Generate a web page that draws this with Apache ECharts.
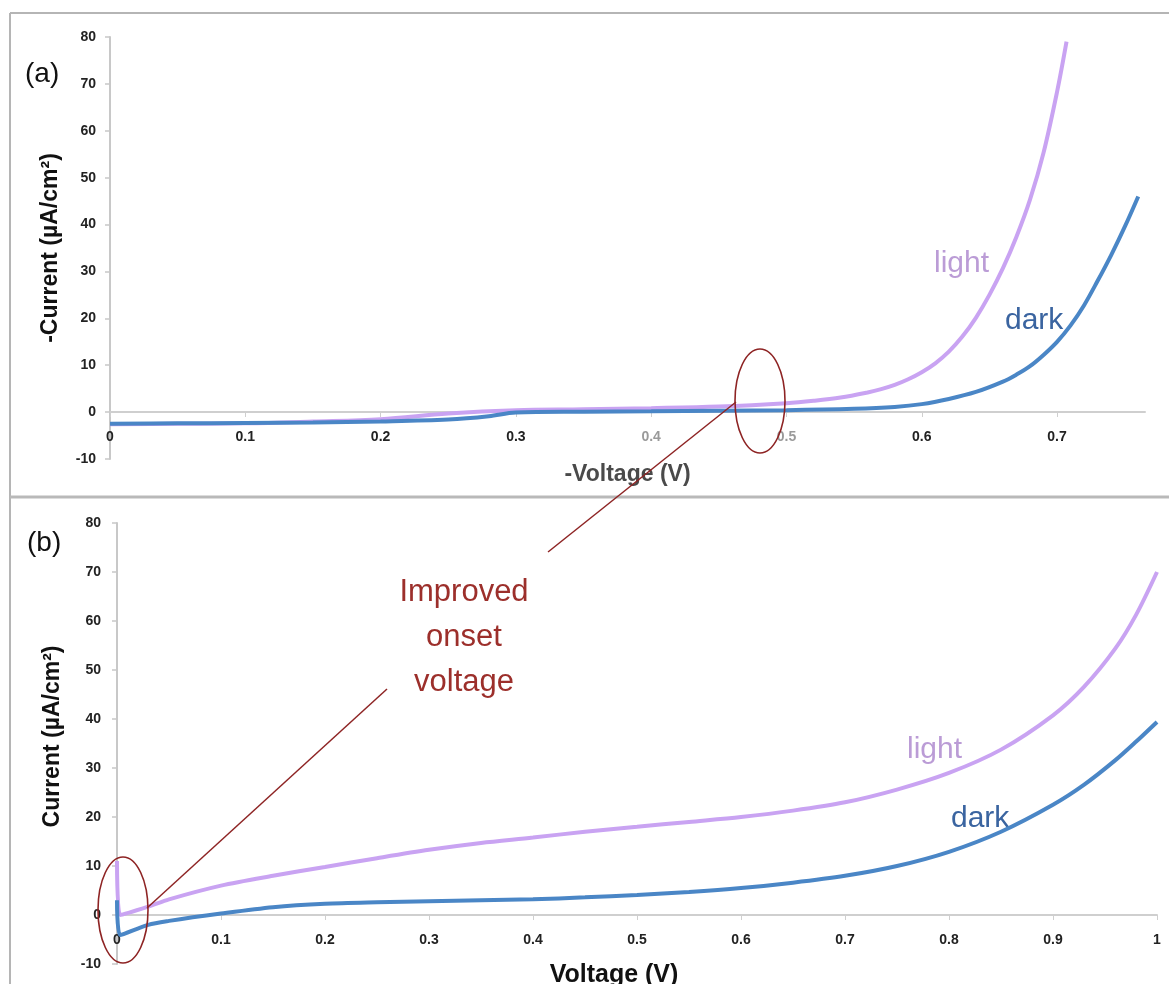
<!DOCTYPE html>
<html>
<head>
<meta charset="utf-8">
<script src="https://cdn.jsdelivr.net/npm/echarts@6/dist/echarts.min.js"></script>
<style>
html,body{margin:0;padding:0;background:#fff;}
#chart{width:1169px;height:984px;}
</style>
</head>
<body>
<div id="chart"></div>
<script>
// ---------- Panel (a): -Voltage (V) vs -Current (µA/cm²) ----------
const aDarkVoltage = [0, 0.05, 0.1, 0.15, 0.2, 0.25, 0.28, 0.3, 0.35, 0.4, 0.45, 0.5, 0.55, 0.58, 0.6, 0.62, 0.64, 0.66, 0.67, 0.68, 0.69, 0.70, 0.71, 0.72, 0.73, 0.74, 0.75, 0.76];
const aDarkCurrent = [-2.5, -2.4, -2.3, -2.2, -2.0, -1.6, -0.9, -0.1, 0.1, 0.2, 0.3, 0.4, 0.7, 1.1, 1.7, 2.8, 4.3, 6.5, 8.0, 9.8, 12.2, 15, 18.5, 22.8, 28, 33.5, 39.5, 46];
const aLightVoltage = [0, 0.05, 0.1, 0.15, 0.2, 0.25, 0.3, 0.35, 0.4, 0.45, 0.5, 0.52, 0.54, 0.56, 0.57, 0.58, 0.59, 0.6, 0.61, 0.62, 0.63, 0.64, 0.65, 0.66, 0.67, 0.68, 0.69, 0.70, 0.707];
const aLightCurrent = [-2.6, -2.5, -2.4, -2.0, -1.5, -0.3, 0.4, 0.6, 0.85, 1.2, 1.9, 2.4, 3.1, 4.2, 4.9, 5.8, 7.0, 8.5, 10.4, 12.9, 16.1, 20.1, 25.0, 30.7, 37.4, 45.3, 55.3, 68.3, 79];

// ---------- Panel (b): Voltage (V) vs Current (µA/cm²) ----------
const bLightVoltage = [0, 0.003, 0.03, 0.05, 0.1, 0.15, 0.2, 0.25, 0.3, 0.35, 0.4, 0.45, 0.5, 0.55, 0.6, 0.65, 0.7, 0.75, 0.8, 0.85, 0.9, 0.93, 0.96, 0.98, 1.0];
const bLightCurrent = [11, 0, 1.7, 3.2, 6, 8, 9.8, 11.6, 13.3, 14.7, 15.8, 17, 18.0, 19, 20, 21.3, 23, 25.6, 29, 33.75, 40.75, 46.6, 54.4, 61.3, 70];
const bDarkVoltage = [0, 0.003, 0.03, 0.05, 0.1, 0.15, 0.2, 0.25, 0.3, 0.35, 0.4, 0.45, 0.5, 0.55, 0.6, 0.65, 0.7, 0.75, 0.8, 0.85, 0.9, 0.93, 0.96, 0.98, 1.0];
const bDarkCurrent = [3, -4.1, -2.0, -1.2, 0.3, 1.6, 2.3, 2.6, 2.8, 3.0, 3.2, 3.6, 4.1, 4.7, 5.5, 6.6, 8, 10.0, 12.9, 17.0, 22.5, 26.6, 31.6, 35.4, 39.4];

// ---------- Text ----------
const panelLabels = ['(a)', '(b)'];
const seriesNames = ['light', 'dark'];
const axisNames = {
  aX: '-Voltage (V)', aY: '-Current (µA/cm²)',
  bX: 'Voltage (V)', bY: 'Current (µA/cm²)'
};
const annotationText = 'Improved\nonset\nvoltage';

const zip = (xs, ys) => xs.map((x, i) => [x, ys[i]]);

const LIGHT = '#c9a3f2';
const DARK = '#4a86c6';
const RED = '#8e2424';
const FONT = '"Liberation Sans", Arial, sans-serif';

const tickLabelStyle = {
  fontFamily: FONT, fontSize: 14, fontWeight: 'bold', color: '#222'
};
function axisCommonY() {
  return {
    type: 'value', min: -10, max: 80, interval: 10,
    axisLine: { show: true, lineStyle: { color: '#c8c8c8', width: 2 } },
    axisTick: { show: true, length: 5, lineStyle: { color: '#c8c8c8', width: 1.5 } },
    splitLine: { show: false },
    nameLocation: 'middle', nameRotate: 90,
    nameTextStyle: { fontFamily: FONT, fontSize: 23, fontWeight: 'bold', color: '#111' }
  };
}

const chart = echarts.init(document.getElementById('chart'), null, { renderer: 'canvas' });

const option = {
  animation: false,
  backgroundColor: '#fff',
  grid: [
    { left: 110, right: 24, top: 37, bottom: 525, containLabel: false, outerBoundsMode: 'none' },
    { left: 117, right: 12, top: 523, bottom: 20, containLabel: false, outerBoundsMode: 'none' }
  ],
  xAxis: [
    {
      gridIndex: 0, type: 'value', min: 0, max: 0.765, interval: 0.1,
      offset: -47,
      axisLine: { onZero: false, lineStyle: { color: '#cfcfcf', width: 2 } },
      axisTick: { show: true, length: 5, lineStyle: { color: '#cfcfcf' } },
      splitLine: { show: false },
      axisLabel: Object.assign({}, tickLabelStyle, {
        margin: 18, showMaxLabel: false,
        formatter: v => (Math.abs(v * 10 - Math.round(v * 10)) < 1e-6 ? String(+v.toFixed(1)) : ''),
        color: v => (v === 0 || Math.abs(v - 0.4) < 1e-6 || Math.abs(v - 0.5) < 1e-6) ? '#9a9a9a' : '#222'
      }),
      name: axisNames.aX, nameLocation: 'middle', nameGap: 51,
      nameTextStyle: { fontFamily: FONT, fontSize: 23, fontWeight: 'bold', color: '#4a4a4a' }
    },
    {
      gridIndex: 1, type: 'value', min: 0, max: 1, interval: 0.1,
      offset: -49,
      axisLine: { onZero: false, lineStyle: { color: '#cfcfcf', width: 2 } },
      axisTick: { show: true, length: 5, lineStyle: { color: '#cfcfcf' } },
      splitLine: { show: false },
      axisLabel: Object.assign({}, tickLabelStyle, {
        margin: 18,
        formatter: v => String(+v.toFixed(1)),
        color: v => v === 0 ? '#9a9a9a' : '#222'
      }),
      name: axisNames.bX, nameLocation: 'middle', nameGap: 48,
      nameTextStyle: { fontFamily: FONT, fontSize: 25, fontWeight: 'bold', color: '#111', padding: [0, 46, 0, 0] }
    }
  ],
  yAxis: [
    Object.assign(axisCommonY(), {
      gridIndex: 0, name: axisNames.aY, nameGap: 48,
      axisLabel: Object.assign({}, tickLabelStyle, { margin: 14 })
    }),
    Object.assign(axisCommonY(), {
      gridIndex: 1, name: axisNames.bY, nameGap: 53, nameTextStyle: { fontFamily: FONT, fontSize: 23, fontWeight: 'bold', color: '#111', padding: [0, 0, 0, 14] },
      axisLabel: Object.assign({}, tickLabelStyle, { margin: 16, color: v => v === 0 ? '#9a9a9a' : '#222' })
    })
  ],
  series: [
    {
      name: seriesNames[0], type: 'line', xAxisIndex: 0, yAxisIndex: 0,
      data: zip(aLightVoltage, aLightCurrent), showSymbol: false, smooth: 0.35,
      lineStyle: { color: LIGHT, width: 4 }, itemStyle: { color: LIGHT }, z: 2
    },
    {
      name: seriesNames[1], type: 'line', xAxisIndex: 0, yAxisIndex: 0,
      data: zip(aDarkVoltage, aDarkCurrent), showSymbol: false, smooth: 0.35,
      lineStyle: { color: DARK, width: 4 }, itemStyle: { color: DARK }, z: 3
    },
    {
      name: seriesNames[0], type: 'line', xAxisIndex: 1, yAxisIndex: 1,
      data: zip(bLightVoltage, bLightCurrent), showSymbol: false, smooth: 0.3,
      lineStyle: { color: LIGHT, width: 4 }, itemStyle: { color: LIGHT }, z: 2
    },
    {
      name: seriesNames[1], type: 'line', xAxisIndex: 1, yAxisIndex: 1,
      data: zip(bDarkVoltage, bDarkCurrent), showSymbol: false, smooth: 0.3,
      lineStyle: { color: DARK, width: 4 }, itemStyle: { color: DARK }, z: 3
    }
  ],
  graphic: [
    // frame
    { type: 'line', shape: { x1: 10, y1: 13, x2: 1169, y2: 13 }, style: { stroke: '#b5b5b5', lineWidth: 2 }, silent: true },
    { type: 'line', shape: { x1: 10, y1: 13, x2: 10, y2: 984 }, style: { stroke: '#b5b5b5', lineWidth: 2 }, silent: true },
    { type: 'line', shape: { x1: 10, y1: 497, x2: 1169, y2: 497 }, style: { stroke: '#b9b9b9', lineWidth: 3 }, silent: true },
    // panel labels
    { type: 'text', left: 25, top: 60, style: { text: panelLabels[0], font: '28px ' + FONT, fill: '#111' } },
    { type: 'text', left: 27, top: 529, style: { text: panelLabels[1], font: '28px ' + FONT, fill: '#111' } },
    // curve labels
    { type: 'text', left: 934, top: 249, style: { text: seriesNames[0], font: '30px ' + FONT, fill: '#bb9cd6' } },
    { type: 'text', left: 1005, top: 306, style: { text: seriesNames[1], font: '30px ' + FONT, fill: '#3a64a0' } },
    { type: 'text', left: 907, top: 735, style: { text: seriesNames[0], font: '30px ' + FONT, fill: '#bb9cd6' } },
    { type: 'text', left: 951, top: 804, style: { text: seriesNames[1], font: '30px ' + FONT, fill: '#3a64a0' } },
    // annotation
    { type: 'ellipse', shape: { cx: 760, cy: 401, rx: 25, ry: 52 }, style: { fill: 'none', stroke: RED, lineWidth: 1.6 }, z: 10 },
    { type: 'ellipse', shape: { cx: 123, cy: 910, rx: 25, ry: 53 }, style: { fill: 'none', stroke: RED, lineWidth: 1.6 }, z: 10 },
    { type: 'line', shape: { x1: 736, y1: 402, x2: 548, y2: 552 }, style: { stroke: RED, lineWidth: 1.5 }, z: 10 },
    { type: 'line', shape: { x1: 147, y1: 908, x2: 387, y2: 689 }, style: { stroke: RED, lineWidth: 1.5 }, z: 10 },
    { type: 'text', x: 464, y: 570, style: { text: annotationText, font: '31px ' + FONT, fill: '#9c2f2b', align: 'center', lineHeight: 45 }, z: 10 }
  ]
};
chart.setOption(option);
</script>
</body>
</html>
